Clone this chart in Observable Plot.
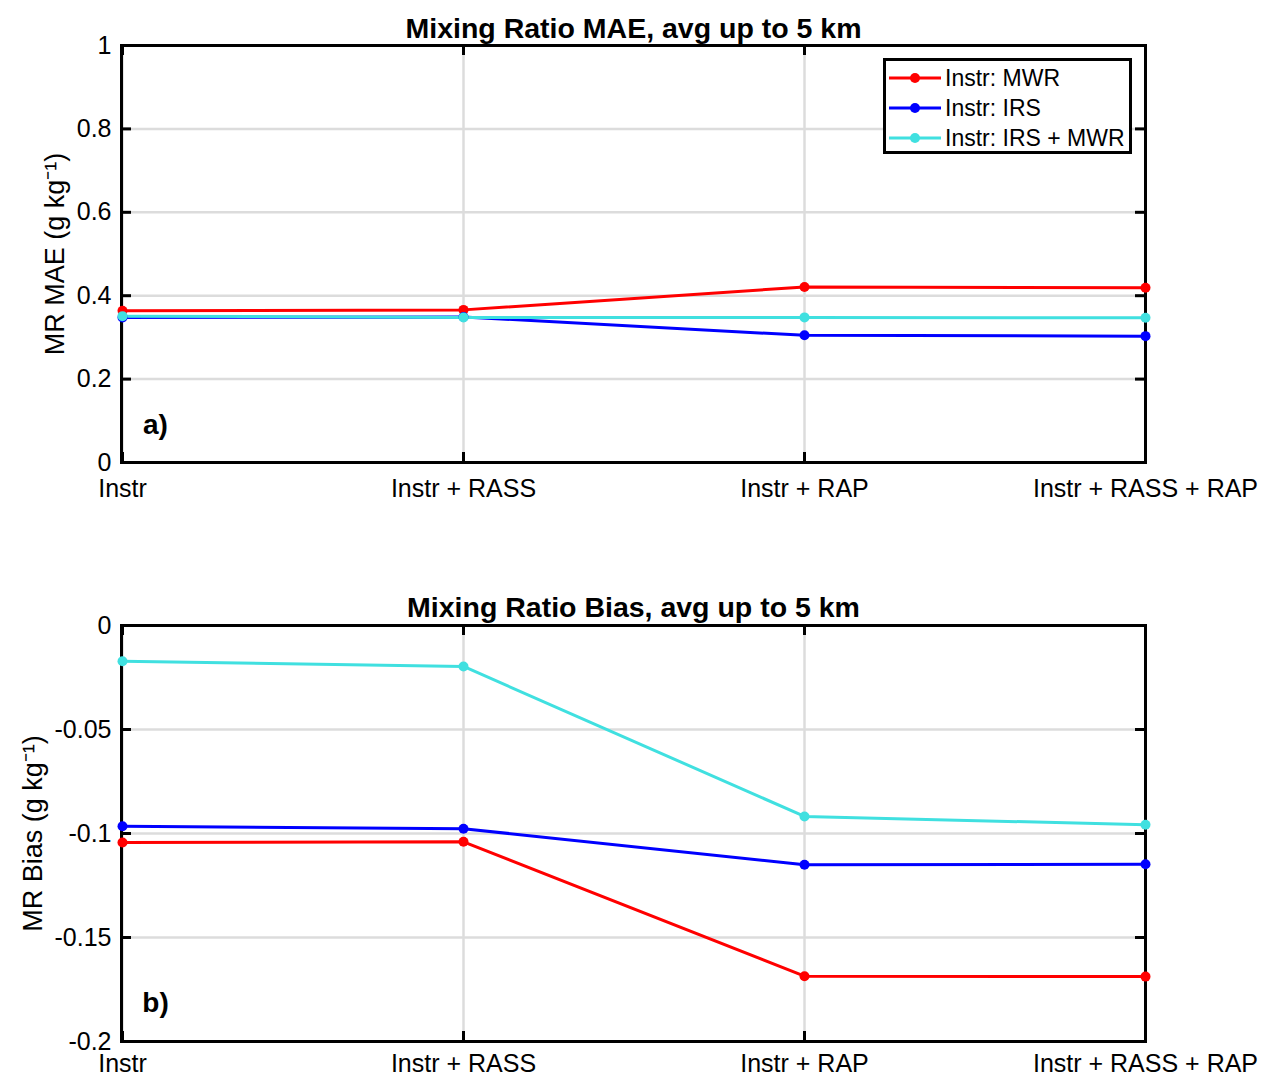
<!DOCTYPE html>
<html>
<head>
<meta charset="utf-8">
<script src="https://cdn.jsdelivr.net/npm/d3@7"></script>
<script src="https://cdn.jsdelivr.net/npm/@observablehq/plot@0.6"></script>
<style>
  html, body { margin: 0; padding: 0; background: #fff; }
  #wrap { position: relative; width: 1264px; height: 1078px; overflow: hidden; font-family: "Liberation Sans", Arial, Helvetica, sans-serif; }
  #wrap svg { display: block; }
  .legend { position: absolute; left: 883px; top: 58px; width: 243px; height: 90px; border: 3px solid #000; background: #fff; }
  .legend .row { position: absolute; left: 3px; height: 30px; display: flex; align-items: center; font-size: 23px; color: #000; white-space: nowrap; }
  .legend .row svg { margin-right: 4px; }
</style>
</head>
<body>
<div id="wrap"></div>
<script>
const categories = ["Instr", "Instr + RASS", "Instr + RAP", "Instr + RASS + RAP"];
const seriesNames = ["Instr: MWR", "Instr: IRS", "Instr: IRS + MWR"];
const seriesColors = ["#ff0000", "#0000ff", "#40e0e0"];

const maeMWR = [0.364, 0.366, 0.421, 0.419];
const maeIRS = [0.348, 0.349, 0.305, 0.303];
const maeIRSMWR = [0.351, 0.348, 0.348, 0.347];

const biasMWR = [-0.1043, -0.1040, -0.1686, -0.1688];
const biasIRS = [-0.0965, -0.0977, -0.1150, -0.1148];
const biasIRSMWR = [-0.0172, -0.0197, -0.0918, -0.0958];

const maeTicks = [0, 0.2, 0.4, 0.6, 0.8, 1];
const biasTicks = [0, -0.05, -0.1, -0.15, -0.2];

function toRows(arrays) {
  const rows = [];
  arrays.forEach((vals, s) => vals.forEach((v, i) => rows.push({series: seriesNames[s], cat: categories[i], value: v})));
  return rows;
}

const W = 1264, ML = 121, MR = 119;
const FW = W - ML - MR;
const font = '"Liberation Sans", Arial, Helvetica, sans-serif';
const FS = 25;

function panel({rows, ticks, domain, height, marginTop, marginBottom, xPad, title, titleDy, ylabel, ylabelDx, tag, tagDy}) {
  const innerH = height - marginTop - marginBottom;
  const marks = [
    Plot.gridY(ticks, {stroke: "#dcdcdc", strokeOpacity: 1, strokeWidth: 2.5}),
    Plot.gridX(categories, {stroke: "#dcdcdc", strokeOpacity: 1, strokeWidth: 2.5}),
    Plot.frame({stroke: "#000", strokeWidth: 3}),
    Plot.tickY(ticks, {y: d => d, insetRight: FW - 10, stroke: "#000", strokeWidth: 3}),
    Plot.tickY(ticks, {y: d => d, insetLeft: FW - 10, stroke: "#000", strokeWidth: 3}),
    Plot.tickX(categories, {x: d => d, insetBottom: innerH - 10, stroke: "#000", strokeWidth: 3}),
    Plot.tickX(categories, {x: d => d, insetTop: innerH - 10, stroke: "#000", strokeWidth: 3}),
    Plot.axisY(ticks, {tickSize: 0, tickPadding: 10, tickFormat: d => String(d), fontSize: FS, label: null}),
    Plot.axisX(categories, {tickSize: 0, tickPadding: xPad, fontSize: FS, label: null}),
    Plot.line(rows, {x: "cat", y: "value", z: "series", stroke: "series", strokeWidth: 3}),
    Plot.dot(rows, {x: "cat", y: "value", fill: "series", r: 5}),
    Plot.text([title], {text: d => d, frameAnchor: "top", dy: titleDy, lineAnchor: "middle", textAnchor: "middle", fontSize: 28.5, fontWeight: "bold"}),
    Plot.text([ylabel], {text: d => d, frameAnchor: "left", rotate: -90, dx: ylabelDx, lineAnchor: "middle", textAnchor: "middle", fontSize: 27}),
    Plot.text([tag], {text: d => d, frameAnchor: "bottom-left", dx: 34, dy: tagDy, lineAnchor: "middle", textAnchor: "middle", fontSize: 28, fontWeight: "bold"})
  ];
  return Plot.plot({
    width: W, height, marginTop, marginBottom, marginLeft: ML, marginRight: MR,
    style: {fontFamily: font, fontSize: FS + "px", color: "#000", background: "#fff", overflow: "visible"},
    x: {type: "point", domain: categories, padding: 0, axis: null},
    y: {domain, axis: null},
    color: {domain: seriesNames, range: seriesColors},
    marks
  });
}

const wrap = document.getElementById("wrap");
wrap.appendChild(panel({
  rows: toRows([maeMWR, maeIRS, maeIRSMWR]), ticks: maeTicks, domain: [0, 1],
  height: 540, marginTop: 45, marginBottom: 78, xPad: 17,
  title: "Mixing Ratio MAE, avg up to 5 km", titleDy: -17,
  ylabel: "MR MAE (g kg⁻¹)", ylabelDx: -66, tag: "a)", tagDy: -37
}));
wrap.appendChild(panel({
  rows: toRows([biasMWR, biasIRS, biasIRSMWR]), ticks: biasTicks, domain: [-0.2, 0],
  height: 538, marginTop: 85, marginBottom: 37, xPad: 13,
  title: "Mixing Ratio Bias, avg up to 5 km", titleDy: -18,
  ylabel: "MR Bias (g kg⁻¹)", ylabelDx: -88, tag: "b)", tagDy: -38
}));

// legend
const legend = document.createElement("div");
legend.className = "legend";
seriesNames.forEach((name, i) => {
  const row = document.createElement("div");
  row.className = "row";
  row.style.top = (2 + i * 30) + "px";
  row.innerHTML = `<svg width="52" height="12"><line x1="0" y1="6" x2="52" y2="6" stroke="${seriesColors[i]}" stroke-width="3"/><circle cx="26" cy="6" r="5" fill="${seriesColors[i]}"/></svg><span>${name}</span>`;
  legend.appendChild(row);
});
wrap.appendChild(legend);
</script>
</body>
</html>
